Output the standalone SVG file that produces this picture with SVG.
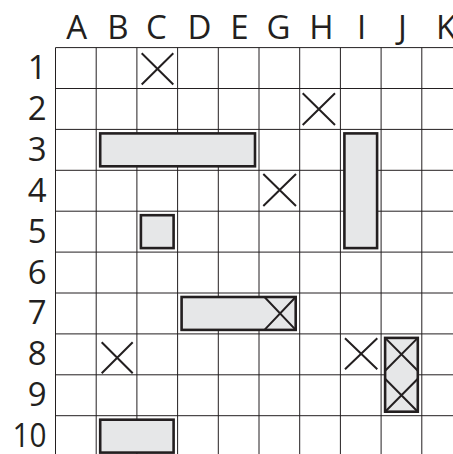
<svg xmlns="http://www.w3.org/2000/svg" width="453" height="454" viewBox="0 0 453 454">
<style>
.lbl{font-family:"Open Sans","Liberation Sans",sans-serif;font-size:33px;font-weight:500;fill:#231f20}
.col{text-anchor:middle}
.row{text-anchor:end}
.grid line{stroke:#231f20;stroke-width:1}
.ship{fill:#e6e7e8;stroke:#231f20;stroke-width:2.6}
.x{stroke:#231f20;stroke-width:2;fill:none}
</style>
<rect width="453" height="454" fill="#fff"/>
<g id="col-labels" class="lbl col">
<text x="76.7" y="39.3">A</text>
<text x="118" y="39.3">B</text>
<text x="156.5" y="39.3">C</text>
<text x="199.5" y="39.3">D</text>
<text x="239.3" y="39.3">E</text>
<text x="278.5" y="39.3">G</text>
<text x="321.5" y="39.3">H</text>
<text x="361.5" y="39.3">I</text>
<text x="402.5" y="39.3">J</text>
<text x="446" y="39.3">K</text>
</g>
<g id="row-labels" class="lbl row">
<text x="46.5" y="79">1</text>
<text x="46.5" y="119.9">2</text>
<text x="46.5" y="160.8">3</text>
<text x="46.5" y="201.7">4</text>
<text x="46.5" y="242.6">5</text>
<text x="46.5" y="283.5">6</text>
<text x="46.5" y="324.4">7</text>
<text x="46.5" y="365.3">8</text>
<text x="46.5" y="406.2">9</text>
<text x="46.5" y="447.1" textLength="34" lengthAdjust="spacingAndGlyphs">10</text>
</g>
<g id="grid" class="grid">
<line x1="55.5" y1="47.6" x2="55.5" y2="454"/>
<line x1="96.2" y1="47.6" x2="96.2" y2="454"/>
<line x1="136.9" y1="47.6" x2="136.9" y2="454"/>
<line x1="177.6" y1="47.6" x2="177.6" y2="454"/>
<line x1="218.3" y1="47.6" x2="218.3" y2="454"/>
<line x1="259" y1="47.6" x2="259" y2="454"/>
<line x1="299.7" y1="47.6" x2="299.7" y2="454"/>
<line x1="340.4" y1="47.6" x2="340.4" y2="454"/>
<line x1="381.1" y1="47.6" x2="381.1" y2="454"/>
<line x1="421.8" y1="47.6" x2="421.8" y2="454"/>
<line x1="55.5" y1="47.6" x2="453" y2="47.6"/>
<line x1="55.5" y1="88.5" x2="453" y2="88.5"/>
<line x1="55.5" y1="129.4" x2="453" y2="129.4"/>
<line x1="55.5" y1="170.3" x2="453" y2="170.3"/>
<line x1="55.5" y1="211.2" x2="453" y2="211.2"/>
<line x1="55.5" y1="252.1" x2="453" y2="252.1"/>
<line x1="55.5" y1="293" x2="453" y2="293"/>
<line x1="55.5" y1="333.9" x2="453" y2="333.9"/>
<line x1="55.5" y1="374.8" x2="453" y2="374.8"/>
<line x1="55.5" y1="415.7" x2="453" y2="415.7"/>
</g>
<g id="ships">
<rect id="ship-B3-E3" class="ship" x="100.2" y="133.4" width="154.8" height="32.9"/>
<rect id="ship-I3-I5" class="ship" x="344.4" y="133.4" width="32.7" height="114.7"/>
<rect id="ship-C5" class="ship" x="140.9" y="215.2" width="32.7" height="32.9"/>
<rect id="ship-D7-G7" class="ship" x="181.6" y="297" width="114.1" height="32.9"/>
<rect id="ship-J8-J9" class="ship" x="385.1" y="337.9" width="32.7" height="73.8"/>
<rect id="ship-B10-C10" class="ship" x="100.2" y="419.7" width="73.4" height="32.9"/>
</g>
<g id="marks" class="x">
<path d="M141.7 53.3L173.3 84.5M173.3 53.3L141.7 84.5"/>
<path d="M302.7 93.3L335 125M335 93.3L302.7 125"/>
<path d="M263.3 174L296 206M296 174L263.3 206"/>
<path d="M264.5 297L295.7 329.9M295.7 297L264.5 329.9"/>
<path d="M101.7 342.3L132.7 373.3M132.7 342.3L101.7 373.3"/>
<path d="M345 338.3L377.3 369.3M377.3 338.3L345 369.3"/>
<path d="M385.1 337.9L417.8 370.8M417.8 337.9L385.1 370.8"/>
<path d="M385.1 378.8L417.8 411.7M417.8 378.8L385.1 411.7"/>
</g>
</svg>
